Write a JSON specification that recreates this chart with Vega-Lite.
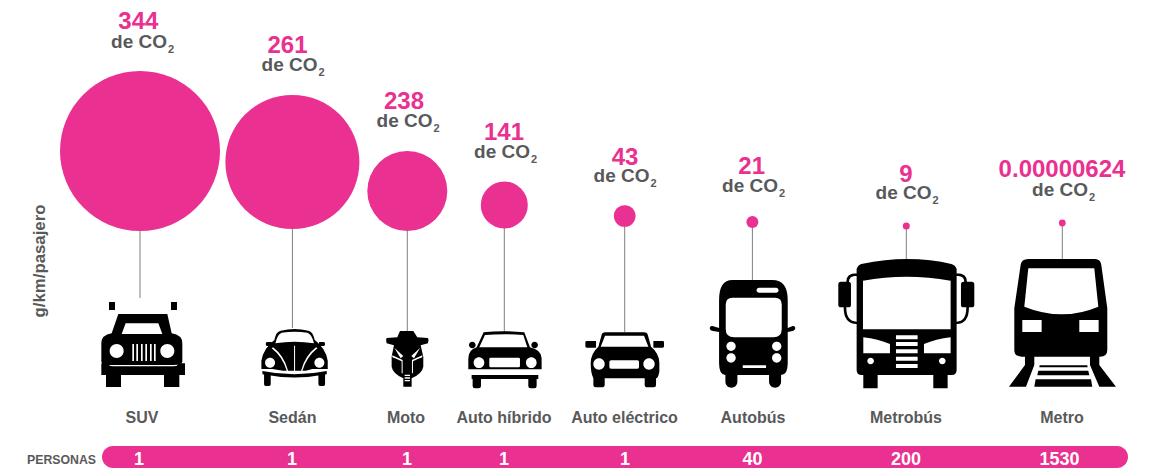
{
"$schema":"https://vega.github.io/schema/vega-lite/v6.json",
"width":1153,"height":468,"padding":0,"autosize":"none","background":"white",
"config":{"view":{"stroke":null},"font":"Liberation Sans"},
"data":{"values":[
{"orden":1,"ancla":9,"vehiculo":"SUV","co2":344,"personas":"1"},
{"orden":2,"ancla":10,"vehiculo":"Sedán","co2":261,"personas":"1"},
{"orden":3,"ancla":11,"vehiculo":"Moto","co2":238,"personas":"1"},
{"orden":4,"ancla":12,"vehiculo":"Auto híbrido","co2":141,"personas":"1"},
{"orden":5,"ancla":13,"vehiculo":"Auto eléctrico","co2":43,"personas":"1"},
{"orden":6,"ancla":14,"vehiculo":"Autobús","co2":21,"personas":"40"},
{"orden":7,"ancla":15,"vehiculo":"Metrobús","co2":9,"personas":"200"},
{"orden":8,"ancla":16,"vehiculo":"Metro","co2":0.00000624,"personas":"1530"}
]},
"resolve":{"scale":{"x":"independent","y":"independent"}},
"layer":[
{"data":{"values":[{"inicio":0,"fin":9,"base":0,"tope":1}]},
 "mark":{"type":"rect","color":"#ea3090","cornerRadius":11},
 "encoding":{
  "x":{"field":"inicio","type":"quantitative","axis":null,"scale":{"domain":[0,9],"range":[102,1128],"nice":false,"zero":false}},
  "x2":{"field":"fin"},
  "y":{"field":"base","type":"quantitative","axis":null,"scale":{"domain":[0,1],"range":[468,446],"nice":false,"zero":false}},
  "y2":{"field":"tope"}}},
{"data":{"values":[{"fila":0,"etiqueta":"PERSONAS"}]},
 "mark":{"type":"text","font":"Liberation Sans","fontWeight":"bold","fontSize":12.3,"align":"right","baseline":"alphabetic","color":"#58595b"},
 "encoding":{
  "x":{"field":"fila","type":"quantitative","axis":null,"scale":{"domain":[0,1],"range":[96,96],"nice":false,"zero":false}},
  "y":{"field":"fila","type":"quantitative","axis":null,"scale":{"domain":[0,1],"range":[464,464],"nice":false,"zero":false}},
  "text":{"field":"etiqueta","type":"nominal"}}},
{"data":{"values":[{"fila":0,"etiqueta":"g/km/pasajero"}]},
 "mark":{"type":"text","font":"Liberation Sans","fontWeight":"bold","fontSize":16.8,"angle":270,"align":"center","baseline":"middle","color":"#58595b"},
 "encoding":{
  "x":{"field":"fila","type":"quantitative","axis":null,"scale":{"domain":[0,1],"range":[40,40],"nice":false,"zero":false}},
  "y":{"field":"fila","type":"quantitative","axis":null,"scale":{"domain":[0,1],"range":[261,261],"nice":false,"zero":false}},
  "text":{"field":"etiqueta","type":"nominal"}}},
{"mark":{"type":"rule","color":"#808080","strokeWidth":1},
 "encoding":{
  "x":{"field":"orden","type":"quantitative","axis":null,"scale":{"domain":[0,1,2,3,4,5,6,7,8,9],"range":[102,140,292.4,407.3,504.3,624.7,752.4,906.3,1062.3,1128],"nice":false,"zero":false}},
  "y":{"field":"orden","type":"quantitative","axis":null,"scale":{"domain":[1,2,3,4,5,6,7,8,9,10,11,12,13,14,15,16],"range":[151,162,191,205,216,222,226,223,298,328,332,332,332,280,260,260],"nice":false,"zero":false}},
  "y2":{"field":"ancla"}}},
{"mark":{"type":"point","filled":true,"opacity":1,"color":"#ea3090","strokeWidth":0},
 "encoding":{
  "x":{"field":"orden","type":"quantitative","axis":null,"scale":{"domain":[0,1,2,3,4,5,6,7,8,9],"range":[102,140,292.4,407.3,504.3,624.7,752.4,906.3,1062.3,1128],"nice":false,"zero":false}},
  "y":{"field":"orden","type":"quantitative","axis":null,"scale":{"domain":[1,2,3,4,5,6,7,8],"range":[151,162,191,205,216,222,226,223],"nice":false,"zero":false}},
  "size":{"field":"co2","type":"quantitative","legend":null,"scale":{"domain":[0,9,21,43,141,238,261,344],"range":[46,49,144,471,2209,6400,17956,25600],"nice":false,"zero":false}}}},
{"mark":{"type":"point","filled":true,"opacity":1,"color":"#000000","strokeWidth":0,"size":0.4444},
 "encoding":{
  "x":{"field":"orden","type":"quantitative","axis":null,"scale":{"domain":[0,1,2,3,4,5,6,7,8,9],"range":[102,140,292.4,407.3,504.3,624.7,752.4,906.3,1062.3,1128],"nice":false,"zero":false}},
  "y":{"field":"orden","type":"quantitative","axis":null,"scale":{"domain":[1,8],"range":[340,340],"nice":false,"zero":false}},
  "shape":{"field":"vehiculo","type":"nominal","legend":null,"scale":{
   "domain":["SUV","Sedán","Moto","Auto híbrido","Auto eléctrico","Autobús","Metrobús","Metro"],
   "range":[
"M-93,-114h18v24h-18z M93,-114h18v24h-18z M-65,-78H82L95,-20Q127,-15 127,10V65Q125,75 100,75H-90Q-114,75 -116,65V10Q-116,-15 -85,-20Z M-43,-50L-55,-18H67L55,-50Z M-91,33a21,21 0 1,0 42,0a21,21 0 1,0 -42,0z M61,33a21,21 0 1,0 42,0a21,21 0 1,0 -42,0z M-23,12v51h5v-51z M-11,12v51h5v-51z M3,12v51h5v-51z M16,12v51h5v-51z M30,12v51h5v-51z M42,12v51h5v-51z M-116,70H-100Q-92,79 -80,79H100Q112,79 120,70H135V105H-116Z M-102,105H-57V141H-102Z M72,105H118V141H72Z",
"M-54,0Q-50,-25 -35,-28Q6,-38 48,-28Q62,-25 67,0Q100,25 106,62V87H60L40,92H-28L-60,87H-93V62Q-87,25 -54,0Z M-32,-22Q-45,-18 -51,10Q6,0 65,10Q58,-18 45,-22Q6,-28 -32,-22Z M-82,68a15,15 0 1,0 30,0a15,15 0 1,0 -30,0z M66,68a15,15 0 1,0 30,0a15,15 0 1,0 -30,0z M-62,25Q-30,50 -17,92L-13,92Q-25,47 -58,22Z M71,22Q38,47 26,92L30,92Q43,50 75,25Z M5,17V92H8V17Z M-76,6H-62V18H-76Q-80,18 -80,12Q-80,6 -76,6Z M80,6H94Q98,6 98,12Q98,18 94,18H80Z M-90,93Q6,113 103,93V103Q6,122 -90,103Z M-85,100H-65V133Q-65,138 -70,138H-80Q-85,138 -85,133Z M78,100H98V133Q98,138 93,138H83Q78,138 78,133Z",
"M-22,-27H18L30,-8L62,-6Q66,0 62,10L40,16L48,50V80Q45,100 13,115V140H-12V115Q-44,100 -47,80V50L-40,16L-62,10Q-66,0 -62,-6L-30,-8Z M-39,23L-20,55L-12,48Z M39,23L12,48L20,55Z M-45,46L-45,52Q-28,58 -17,64V100H-14V60Q-28,54 -45,46Z M45,46Q28,54 14,60V100H17V64Q28,58 45,52Z M-8,104V108H8V104Z M-8,112V116H8V112Z M-8,120V124H8V120Z",
"M-62,-23Q-5,-30 60,-23L77,22Q112,30 112,55V88H-108V55Q-108,30 -83,22Z M-58,-15L-75,22H69L57,-15Q0,-20 -58,-15Z M-106,15a10,10 0 1,1 20,0a10,10 0 1,1 -20,0z M81,15a10,10 0 1,1 20,0a10,10 0 1,1 -20,0z M-92,68a16,16 0 1,0 32,0a16,16 0 1,0 -32,0z M65,68a16,16 0 1,0 32,0a16,16 0 1,0 -32,0z M-41,53Q-45,53 -45,57V78Q-45,82 -41,82H43Q47,82 47,78V57Q47,53 43,53Z M-98,105H102V117H97V138Q97,145 90,145H79Q72,145 72,138V117H-70V138Q-70,145 -77,145H-88Q-95,145 -95,138V117H-98Z",
"M-58,-23H58Q68,-23 70,-13L79,20Q104,40 104,70V95Q100,115 94,115V135Q94,142 87,142H68Q60,142 60,135V115H-60V135Q-60,142 -67,142H-87Q-94,142 -94,135V115Q-102,100 -102,70Q-102,40 -79,20L-70,-13Q-68,-23 -58,-23Z M-59,-13L-72,20H71L58,-13Z M-114,3H-86V23H-114Q-118,23 -118,19V7Q-118,3 -114,3Z M86,3H114Q118,3 118,7V19Q118,23 114,23H86Z M-94,72a17,17 0 1,0 34,0a17,17 0 1,0 -34,0z M56,72a17,17 0 1,0 34,0a17,17 0 1,0 -34,0z M-41,61Q-46,61 -46,66V81Q-46,86 -41,86H38Q43,86 43,81V66Q43,61 38,61Z",
"M-60,-180H60Q106,-180 106,-120V70Q106,105 86,105V125A18,18 0 0 1 50,125V105H-45V125A18,18 0 0 1 -81,125V105Q-100,105 -100,70V-120Q-100,-180 -60,-180Z M-60,-127Q-80,-127 -80,-107V-33Q-80,-8 -55,-8H63Q88,-8 88,-33V-107Q88,-127 68,-127Z M20,-157A7.5,7.5 0 0 0 20,-142H71A7.5,7.5 0 0 0 71,-157Z M-78,19a14,14 0 1,0 28,0a14,14 0 1,0 -28,0z M-78,54a14,14 0 1,0 28,0a14,14 0 1,0 -28,0z M59,19a14,14 0 1,0 28,0a14,14 0 1,0 -28,0z M59,54a14,14 0 1,0 28,0a14,14 0 1,0 -28,0z M-29,76V84H41V76Z M-120,-42L-100,-36V-24L-122,-28Q-130,-32 -127,-38Q-125,-43 -120,-42Z M121,-42Q126,-43 128,-38Q131,-32 123,-28L106,-24V-36Z",
"M-149,-213Q-145,-225 -135,-228Q-60,-243 0,-243Q75,-243 135,-228Q147,-225 151,-213V90Q151,105 136,105H124V145H81V105H-86V145H-129V105H-134Q-149,105 -149,90Z M-130,-178V-32H133V-178Q0,-202 -130,-178Z M-129,-8V40H-49V12Q-85,-3 -129,-8Z M133,-8Q89,-3 53,12V40H133Z M-31,-14V-2H34V-14Z M-31,6V18H34V6Z M-31,28V40H34V28Z M-31,50V62H34V50Z M-31,72V84H34V72Z M-117,63a10,10 0 1,0 20,0a10,10 0 1,0 -20,0z M98,63a10,10 0 1,0 20,0a10,10 0 1,0 -20,0z M-196,-175H-174Q-166,-175 -166,-167V-106Q-166,-98 -174,-98H-196Q-204,-98 -204,-106V-167Q-204,-175 -196,-175Z M172,-175H196Q204,-175 204,-167V-106Q204,-98 196,-98H172Q164,-98 164,-106V-167Q164,-175 172,-175Z M-180,-175Q-180,-200 -149,-200V-193Q-172,-193 -172,-175Z M151,-200Q182,-200 182,-175H174Q174,-193 151,-193Z M-188,-98Q-188,-48 -149,-48V-55Q-180,-55 -180,-98Z M180,-98H188Q188,-48 151,-48V-55Q180,-55 180,-98Z",
"M-102,-243H98Q115,-243 117,-225L135,-95V30Q135,50 113,50H-122Q-144,50 -144,30V-95L-125,-225Q-123,-243 -102,-243Z M-102,-215L-114,-100Q0,-54 108,-100L96,-215Z M-120,-60V-24H-62V-60Z M51,-60V-24H109V-60Z M-112,45H-84V75L-109,140H-160L-112,75Z M83,45H111V75L161,140H111L83,75Z M-68,76H75L76,82H-69Z M-72,92H78L81,106H-75Z M-80,118H86L90,140H-84Z"
]}}}},
{"mark":{"type":"text","font":"Liberation Sans","fontWeight":"bold","fontSize":24,"baseline":"alphabetic","color":"#ea3090"},
 "encoding":{
  "x":{"field":"orden","type":"quantitative","axis":null,"scale":{"domain":[1,2,3,4,5,6,7,8],"range":[138.3,287.5,404,504,625,751.7,906,1062],"nice":false,"zero":false}},
  "y":{"field":"orden","type":"quantitative","axis":null,"scale":{"domain":[1,2,3,4,5,6,7,8],"range":[29,53,109,140,165,174.3,181.7,177.3],"nice":false,"zero":false}},
  "text":{"field":"co2","type":"nominal"}}},
{"mark":{"type":"text","font":"Liberation Sans","fontWeight":"bold","fontSize":19,"align":"right","baseline":"alphabetic","color":"#58595b"},
 "encoding":{
  "x":{"field":"orden","type":"quantitative","axis":null,"scale":{"domain":[1,2,3,4,5,6,7,8],"range":[167,317.5,432.5,530,649.5,778,931.5,1088],"nice":false,"zero":false}},
  "y":{"field":"orden","type":"quantitative","axis":null,"scale":{"domain":[1,2,3,4,5,6,7,8],"range":[47.7,70.7,126.5,157.5,181.7,191.7,199,195.7],"nice":false,"zero":false}},
  "text":{"value":"de CO"}}},
{"mark":{"type":"text","font":"Liberation Sans","fontWeight":"bold","fontSize":11,"align":"left","baseline":"alphabetic","color":"#58595b"},
 "encoding":{
  "x":{"field":"orden","type":"quantitative","axis":null,"scale":{"domain":[1,2,3,4,5,6,7,8],"range":[168,318.5,433.5,531,650.5,779,932.5,1089],"nice":false,"zero":false}},
  "y":{"field":"orden","type":"quantitative","axis":null,"scale":{"domain":[1,2,3,4,5,6,7,8],"range":[52.7,75.7,131.5,162.5,186.7,196.7,204,200.7],"nice":false,"zero":false}},
  "text":{"value":"2"}}},
{"mark":{"type":"text","font":"Liberation Sans","fontWeight":"bold","fontSize":16,"baseline":"alphabetic","color":"#58595b"},
 "encoding":{
  "x":{"field":"orden","type":"quantitative","axis":null,"scale":{"domain":[1,2,3,4,5,6,7,8],"range":[142,292.4,406,504,624.5,753,906,1062],"nice":false,"zero":false}},
  "y":{"field":"orden","type":"quantitative","axis":null,"scale":{"domain":[1,8],"range":[423,423],"nice":false,"zero":false}},
  "text":{"field":"vehiculo","type":"nominal"}}},
{"mark":{"type":"text","font":"Liberation Sans","fontWeight":"bold","fontSize":18,"baseline":"alphabetic","color":"#ffffff"},
 "encoding":{
  "x":{"field":"orden","type":"quantitative","axis":null,"scale":{"domain":[1,2,3,4,5,6,7,8],"range":[139,292,407,504,625,752.5,906,1059.5],"nice":false,"zero":false}},
  "y":{"field":"orden","type":"quantitative","axis":null,"scale":{"domain":[1,8],"range":[464.5,464.5],"nice":false,"zero":false}},
  "text":{"field":"personas","type":"nominal"}}}
]}
